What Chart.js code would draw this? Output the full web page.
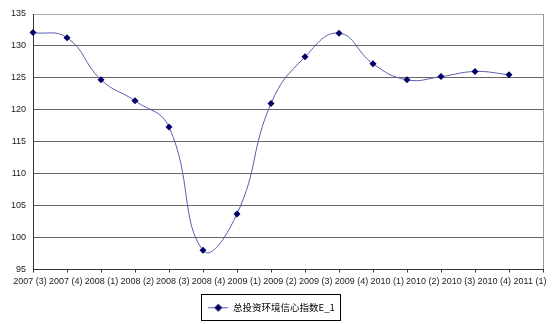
<!DOCTYPE html>
<html>
<head>
<meta charset="utf-8">
<script src="https://cdn.jsdelivr.net/npm/chart.js@4/dist/chart.umd.min.js"></script>
<style>
  html, body { margin: 0; padding: 0; background: #fff; }
</style>
</head>
<body>
<canvas id="chart" width="554" height="324"></canvas>
<script>
// quarters on the x axis
const quarters = ['2007 (3)', '2007 (4)', '2008 (1)', '2008 (2)', '2008 (3)', '2008 (4)',
  '2009 (1)', '2009 (2)', '2009 (3)', '2009 (4)', '2010 (1)', '2010 (2)', '2010 (3)',
  '2010 (4)', '2011 (1)'];

// 总投资环境信心指数E_1
const indexValues = [132.1, 131.3, 124.7, 121.4, 117.3, 98.0, 103.7, 121.0, 128.3,
  132.0, 127.2, 124.7, 125.2, 126.0, 125.5];

const seriesName = '总投资环境信心指数E_1';
const yTicks = [95, 100, 105, 110, 115, 120, 125, 130, 135];

const lineColor = '#5B5BB0';
const markColor = '#000066';

// little line+diamond picture for the legend
function legendMark() {
  const c = document.createElement('canvas');
  c.width = 20; c.height = 10;
  const g = c.getContext('2d');
  g.strokeStyle = lineColor;
  g.lineWidth = 1;
  g.beginPath(); g.moveTo(0, 5.5); g.lineTo(20, 5.5); g.stroke();
  g.fillStyle = markColor;
  g.beginPath(); g.moveTo(10, 1.5); g.lineTo(14, 5.5); g.lineTo(10, 9.5); g.lineTo(6, 5.5); g.closePath(); g.fill();
  return c;
}

// box round the legend, like the excel one
const legendBorder = {
  id: 'legendBorder',
  afterDraw(chart) {
    const hb = chart.legend && chart.legend.legendHitBoxes && chart.legend.legendHitBoxes[0];
    if (!hb) return;
    const ctx = chart.ctx;
    const cy = hb.top + hb.height / 2;
    const left = Math.round(hb.left - 7);
    const right = Math.round(hb.left + hb.width + 5);
    ctx.save();
    ctx.strokeStyle = '#000';
    ctx.lineWidth = 1;
    ctx.strokeRect(left + 0.5, Math.round(cy - 13) + 0.5, right - left, 26);
    ctx.restore();
  }
};

const ctx = document.getElementById('chart').getContext('2d');
const myChart = new Chart(ctx, {
  type: 'line',
  data: {
    labels: quarters.concat(['']),
    datasets: [{
      label: seriesName,
      data: indexValues,
      borderColor: lineColor,
      borderWidth: 1,
      tension: 0.45,
      pointStyle: 'rectRot',
      pointRadius: 3.5,
      pointBackgroundColor: markColor,
      pointBorderColor: markColor,
      pointBorderWidth: 0,
      fill: false
    }]
  },
  options: {
    responsive: false,
    animation: false,
    devicePixelRatio: 1,
    layout: { padding: { top: 14, right: 11, left: 0, bottom: 2 } },
    plugins: {
      tooltip: { enabled: false },
      legend: {
        position: 'bottom',
        labels: {
          usePointStyle: true,
          pointStyle: legendMark(),
          pointStyleWidth: 20,
          color: '#000',
          padding: 8,
          font: { family: '"Noto Sans CJK SC", sans-serif', size: 9.5 }
        }
      }
    },
    scales: {
      x: {
        type: 'category',
        offset: false,
        ticks: { display: false },
        grid: {
          drawOnChartArea: true,
          color: c => c.index === quarters.length ? '#999' : 'rgba(0,0,0,0)',
          tickColor: '#333',
          tickLength: 3
        },
        border: { color: '#333' },
        afterFit: s => { s.height = 3; }
      },
      xl: {
        type: 'linear',
        position: 'bottom',
        min: 0.084,
        max: 14.364,
        afterBuildTicks: s => { s.ticks = quarters.map((q, i) => ({ value: i })); },
        ticks: {
          autoSkip: false,
          maxRotation: 0,
          minRotation: 0,
          padding: 4,
          color: '#222',
          font: { family: '"Liberation Sans", Arial, sans-serif', size: 9 },
          callback: v => quarters[v] !== undefined ? quarters[v] : ''
        },
        grid: { display: false, drawTicks: false },
        border: { display: false },
        afterFit: s => { s.height = 22; }
      },
      y: {
        min: 95,
        max: 135,
        afterBuildTicks: s => { s.ticks = yTicks.map(v => ({ value: v })); },
        ticks: {
          padding: 7,
          color: '#222',
          font: { family: '"Liberation Sans", Arial, sans-serif', size: 9 }
        },
        grid: {
          drawTicks: false,
          color: c => c.tick && c.tick.value === 135 ? '#aaa' : '#666'
        },
        border: { color: '#333' },
        afterFit: s => { s.width = 33; }
      }
    }
  },
  plugins: [legendBorder]
});
</script>
</body>
</html>
